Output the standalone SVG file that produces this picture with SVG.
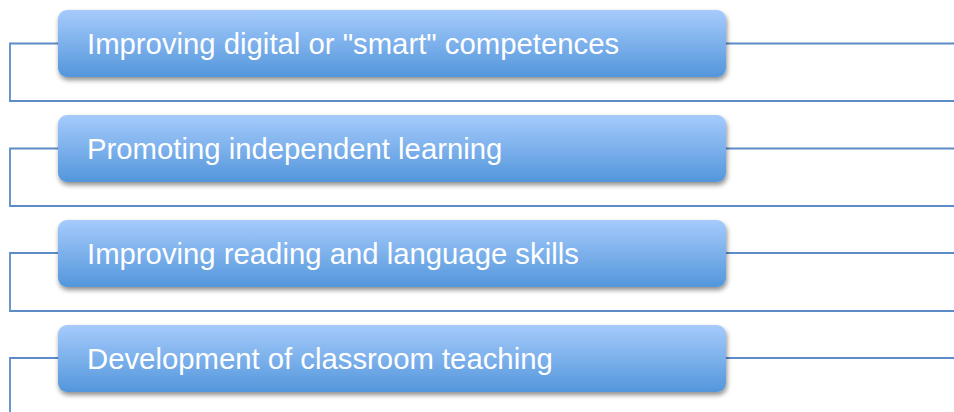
<svg xmlns="http://www.w3.org/2000/svg" width="954" height="412" viewBox="0 0 954 412">
  <defs>
    <linearGradient id="boxFill" x1="0" y1="0" x2="0" y2="1">
      <stop offset="0" stop-color="#a6cbfc"/>
      <stop offset="1" stop-color="#5396db"/>
    </linearGradient>
    <filter id="shadow" x="-5%" y="-20%" width="110%" height="150%">
      <feGaussianBlur in="SourceAlpha" stdDeviation="2.5"/>
      <feOffset dx="1" dy="3" result="blur"/>
      <feComponentTransfer><feFuncA type="linear" slope="0.45"/></feComponentTransfer>
      <feMerge><feMergeNode/><feMergeNode in="SourceGraphic"/></feMerge>
    </filter>
    <style>
      .box { fill: url(#boxFill); filter: url(#shadow); }
      .label { font-family: "Liberation Sans", Arial, Helvetica, sans-serif; font-size: 29.3px; fill: #ffffff; }
      .wire { fill: none; stroke: #5b8cc8; stroke-width: 1.8; }
    </style>
  </defs>
  <rect width="954" height="412" fill="#ffffff"/>

  <g id="connectors">
    <!-- item 1 -->
    <path class="wire" d="M58 43.5 H10 V101 H954"/>
    <path class="wire" d="M726 43.5 H954"/>
    <!-- item 2 -->
    <path class="wire" d="M58 148.5 H10 V206 H954"/>
    <path class="wire" d="M726 148.5 H954"/>
    <!-- item 3 -->
    <path class="wire" d="M58 253 H10 V311 H954"/>
    <path class="wire" d="M726 253 H954"/>
    <!-- item 4 -->
    <path class="wire" d="M58 358 H10 V412"/>
    <path class="wire" d="M726 358 H954"/>
  </g>

  <g id="node1">
    <rect class="box" x="58" y="10" width="668" height="67" rx="9"/>
    <text class="label" x="87" y="54">Improving digital or "smart" competences</text>
  </g>
  <g id="node2">
    <rect class="box" x="58" y="115" width="668" height="67" rx="9"/>
    <text class="label" x="87" y="159">Promoting independent learning</text>
  </g>
  <g id="node3">
    <rect class="box" x="58" y="220" width="668" height="67" rx="9"/>
    <text class="label" x="87" y="263.5">Improving reading and language skills</text>
  </g>
  <g id="node4">
    <rect class="box" x="58" y="325" width="668" height="67" rx="9"/>
    <text class="label" x="87" y="368.5">Development of classroom teaching</text>
  </g>
</svg>
